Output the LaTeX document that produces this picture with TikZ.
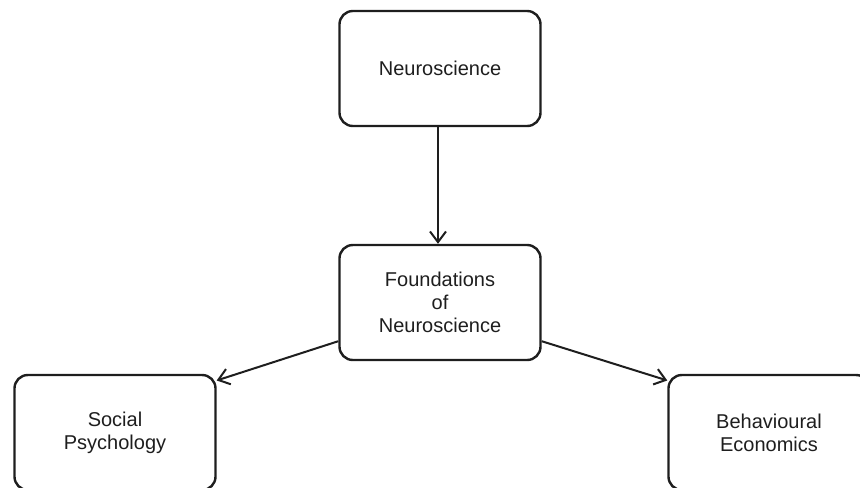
\documentclass[tikz,border=0pt]{standalone}
\usepackage{fontspec}
\setmainfont{Liberation Sans}
\usetikzlibrary{arrows.meta,positioning}
\definecolor{ink}{HTML}{1E1E1E}
\tikzset{
  box/.style={draw=ink, line width=1.8pt, rounded corners=10pt, minimum width=201*0.75pt, minimum height=115*0.75pt, align=center, text=ink, font=\fontsize{15}{17.3}\selectfont, inner sep=0pt},
  conn/.style={draw=ink, line width=1.5pt, -{Straight Barb[length=8pt,width=12pt,line width=1.5pt]}}
}
\begin{document}
\begin{tikzpicture}[x=0.75pt,y=-0.75pt]
\useasboundingbox (0,0) rectangle (860,487);
\clip (0,0) rectangle (860,487);
\node[box] (neuro) at (440,68.5) {Neuroscience};
\node[box] (found) at (440,302.5) {Foundations\\of\\Neuroscience};
\node[box] (social) at (115,432.5) {Social\\Psychology};
\node[box] (behav) at (769,432.5) {Behavioural\\Economics};
\draw[conn] ([xshift=-1.5pt]neuro.south) -- ([xshift=-1.5pt]found.north);
\draw[conn] ([yshift=15pt]found.south west) -- ([yshift=-5pt]social.north east);
\draw[conn] ([yshift=15pt]found.south east) -- ([yshift=-5pt]behav.north west);
\end{tikzpicture}
\end{document}
